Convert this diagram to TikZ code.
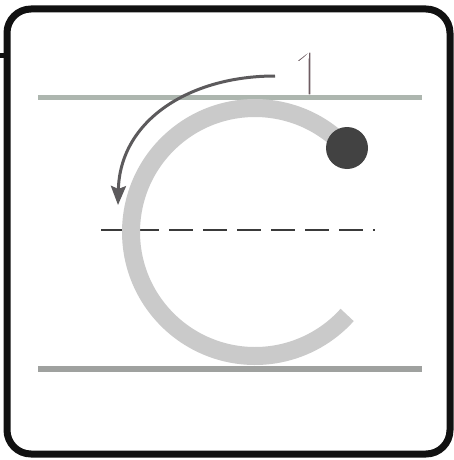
\documentclass[tikz,border=0pt]{standalone}
\usepackage{fontspec}
\newfontfamily\numfont{Open Sans}
\usetikzlibrary{arrows.meta}
\definecolor{frameblack}{HTML}{111111}
\definecolor{topline}{HTML}{ADB6AF}
\definecolor{botline}{HTML}{9FA19F}
\definecolor{cgray}{HTML}{CACACA}
\definecolor{dotgray}{HTML}{424242}
\definecolor{arrowgray}{HTML}{5C5A5C}
\definecolor{dashgray}{HTML}{3A3A3A}
\definecolor{numcol}{HTML}{6E5C62}
\tikzset{
  guide/.style={line width=5pt},
  letterstroke/.style={cgray, line width=18pt},
  strokearrow/.style={arrowgray, line width=3pt, -{Stealth[length=19pt,width=15pt,inset=3pt]}},
}
\begin{document}
\begin{tikzpicture}[x=1pt,y=-1pt]
\useasboundingbox (0,0) rectangle (454,460);
\fill[white] (0,0) rectangle (454,460);
% stroke number (drawn first so the guide line lies over its foot)
\node[text=numcol, anchor=base, inner sep=0pt] (num) at (308,96)
  {\numfont\fontsize{63}{70}\selectfont\special{pdf:literal direct 2 Tr 1 1 1 RG 3.2 w}1\special{pdf:literal direct 0 Tr}};
% frame
\draw[frameblack, line width=7pt, rounded corners=24pt] (7,9) rectangle (450,454);
\fill[frameblack] (0,53) rectangle (8,58.5);
% guide lines
\coordinate (tl1) at (38,97);
\coordinate (tl2) at (422,97);
\coordinate (bl1) at (38,369);
\coordinate (bl2) at (422,369);
\coordinate (dl1) at (95,230);
\coordinate (dl2) at (375,230);
\draw[guide, topline] (tl1) -- (tl2);
\draw[guide, botline, line width=6pt] (bl1) -- (bl2);
\draw[dashgray, line width=1.5pt, dash pattern=on 24pt off 10pt, dash phase=28pt] (dl1) -- (dl2);
% letter c
\coordinate (cc) at (255,232);
\draw[letterstroke] (cc) ++(-41:124) arc[start angle=-41, end angle=-318, radius=124];
\node[circle, fill=dotgray, minimum size=42pt, inner sep=0pt] (dot) at (347,148) {};
% direction arrow
\coordinate (as) at (275,76);
\coordinate (ae) at (118,205);
\draw[strokearrow] (as) .. controls (190,76) and (120,120) .. (ae);
\end{tikzpicture}
\end{document}
